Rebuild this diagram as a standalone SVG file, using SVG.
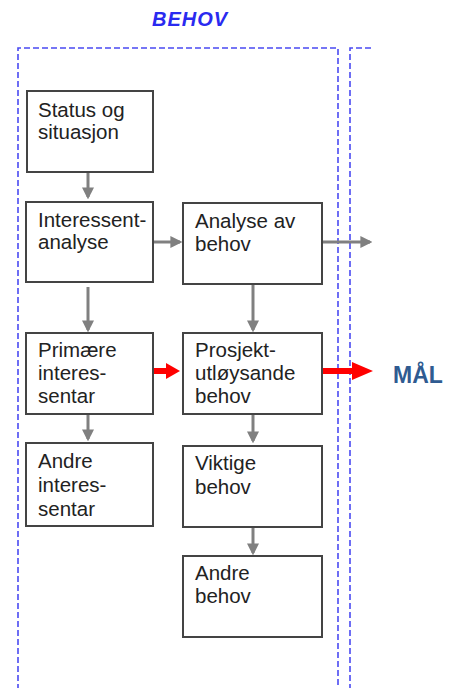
<svg xmlns="http://www.w3.org/2000/svg" width="460" height="688" viewBox="0 0 460 688">
<defs>
<style>
.frame{fill:none;stroke:#4a4af2;stroke-width:1.6;stroke-dasharray:6 3}
.box{fill:#fff;stroke:#444;stroke-width:2}
.t{font-family:"Liberation Sans",Arial,sans-serif;font-size:20.5px;fill:#222}
.g{stroke:#808080;stroke-width:3;fill:none}
.red{fill:#ff0000}
</style>
<marker id="ah" markerWidth="4" markerHeight="4" refX="3.2" refY="2" orient="auto" markerUnits="strokeWidth" viewBox="0 0 4 4">
<path d="M0,0 L4,2 L0,4 Z" fill="#808080"/>
</marker>
</defs>
<rect width="460" height="688" fill="#fff"/>
<text x="190" y="26" text-anchor="middle" font-family="Liberation Sans,Arial,sans-serif" font-size="20" font-weight="bold" font-style="italic" fill="#2a2af0" letter-spacing="1">BEHOV</text>
<g id="frames">
<path class="frame" d="M18,690 L18,48 L338,48 L338,690"/>
<path class="frame" d="M350,690 L350,48 L374,48"/>
</g>
<g id="connectors">
<line class="g" x1="88" y1="172" x2="88" y2="197" marker-end="url(#ah)"/>
<line class="g" x1="153" y1="242" x2="180" y2="242" marker-end="url(#ah)"/>
<line class="g" x1="322" y1="242" x2="370" y2="242" marker-end="url(#ah)"/>
<line class="g" x1="88" y1="287" x2="88" y2="330" marker-end="url(#ah)"/>
<line class="g" x1="253" y1="284" x2="253" y2="330" marker-end="url(#ah)"/>
<line class="g" x1="88" y1="414" x2="88" y2="439" marker-end="url(#ah)"/>
<line class="g" x1="253" y1="414" x2="253" y2="441" marker-end="url(#ah)"/>
<line class="g" x1="253" y1="527" x2="253" y2="553" marker-end="url(#ah)"/>
<polygon class="red" points="153,368 166,368 166,363 180,371 166,379 166,374 153,374"/>
<polygon class="red" points="322,368 352,368 352,362 373,371 352,380 352,374 322,374"/>
</g>
<g id="n1"><rect class="box" x="27" y="91" width="126" height="81"/><text class="t" x="38" y="117">Status og</text><text class="t" x="38" y="139">situasjon</text></g>
<g id="n2"><rect class="box" x="26" y="202" width="127" height="80"/><text class="t" x="38" y="227">Interessent-</text><text class="t" x="38" y="249">analyse</text></g>
<g id="n3"><rect class="box" x="183" y="203" width="139" height="81"/><text class="t" x="195" y="228">Analyse av</text><text class="t" x="195" y="251">behov</text></g>
<g id="n4"><rect class="box" x="26" y="333" width="127" height="81"/><text class="t" x="38" y="357">Primære</text><text class="t" x="38" y="380">interes-</text><text class="t" x="38" y="403">sentar</text></g>
<g id="n5"><rect class="box" x="183" y="333" width="139" height="81"/><text class="t" x="195" y="357">Prosjekt-</text><text class="t" x="195" y="380">utløysande</text><text class="t" x="195" y="403">behov</text></g>
<g id="n6"><rect class="box" x="26" y="443" width="127" height="83"/><text class="t" x="38" y="468">Andre</text><text class="t" x="38" y="492">interes-</text><text class="t" x="38" y="516">sentar</text></g>
<g id="n7"><rect class="box" x="183" y="446" width="139" height="81"/><text class="t" x="195" y="470">Viktige</text><text class="t" x="195" y="494">behov</text></g>
<g id="n8"><rect class="box" x="183" y="556" width="139" height="81"/><text class="t" x="195" y="580">Andre</text><text class="t" x="195" y="603">behov</text></g>
<text x="393" y="383" font-family="Liberation Sans,Arial,sans-serif" font-size="23" font-weight="bold" fill="#2f5b91">MÅL</text>
</svg>
